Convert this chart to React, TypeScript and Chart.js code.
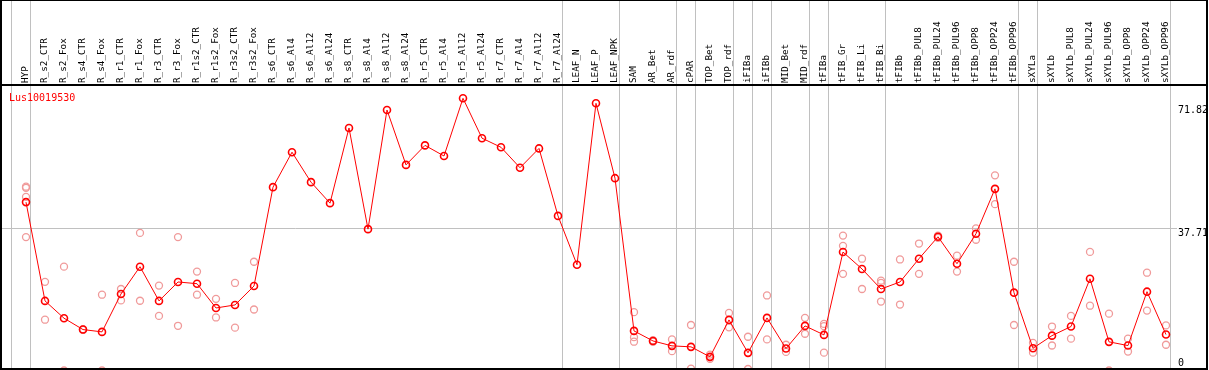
import React, { useEffect, useRef } from "react";
import { Chart, registerables } from "chart.js";

Chart.register(...registerables);

const geneName = "Lus10019530";

const categories = [
  "HYP",
  "R_s2_CTR", "R_s2_Fox", "R_s4_CTR", "R_s4_Fox",
  "R_r1_CTR", "R_r1_Fox", "R_r3_CTR", "R_r3_Fox",
  "R_r1s2_CTR", "R_r1s2_Fox", "R_r3s2_CTR", "R_r3s2_Fox",
  "R_s6_CTR", "R_s6_Al4", "R_s6_Al12", "R_s6_Al24",
  "R_s8_CTR", "R_s8_Al4", "R_s8_Al12", "R_s8_Al24",
  "R_r5_CTR", "R_r5_Al4", "R_r5_Al12", "R_r5_Al24",
  "R_r7_CTR", "R_r7_Al4", "R_r7_Al12", "R_r7_Al24",
  "LEAF_N", "LEAF_P", "LEAF_NPK",
  "SAM", "AR_Bet", "AR_rdf", "cPAR", "TOP_Bet", "TOP_rdf",
  "iFIBa", "iFIBb", "MID_Bet", "MID_rdf",
  "tFIBa", "tFIB_Gr", "tFIB_Li", "tFIB_Bi",
  "tFIBb", "tFIBb_PUL8", "tFIBb_PUL24", "tFIBb_PUL96",
  "tFIBb_OPP8", "tFIBb_OPP24", "tFIBb_OPP96",
  "sXYLa", "sXYLb", "sXYLb_PUL8", "sXYLb_PUL24", "sXYLb_PUL96",
  "sXYLb_OPP8", "sXYLb_OPP24", "sXYLb_OPP96",
];

const meanValues = [
  44.43,
  18.36, 13.8, 10.8, 10.19,
  20.2, 27.39, 18.36, 23.36,
  22.91, 16.5, 17.3, 22.3,
  48.38, 57.6, 49.7, 44.16,
  64.0, 37.3, 68.74, 54.25,
  59.4, 56.6, 71.82, 61.3,
  58.9, 53.5, 58.6, 40.8,
  27.9, 70.5, 50.75,
  10.45, 7.8, 6.5, 6.24, 3.6, 13.35,
  4.66, 13.88, 5.8, 11.77,
  9.4, 31.26, 26.8, 21.5,
  23.36, 29.5, 35.29, 28.18,
  36.08, 47.93, 20.54,
  5.87, 9.2, 11.6, 24.2, 7.56,
  6.58, 20.8, 9.48,
];

const replicateValues: number[][] = [
  [48.5, 48.2, 45.8, 35.2],
  [23.4, 13.4], [27.4, 0], [10.9, 10.7], [20.0, 0],
  [21.5, 18.5], [36.3, 18.4], [22.4, 14.4], [35.2, 11.8],
  [26.1, 20.0], [18.9, 14.0], [23.1, 11.3], [28.7, 16.1],
  [], [], [], [],
  [], [], [], [],
  [], [], [], [],
  [], [], [], [],
  [], [], [],
  [15.4, 8.8, 7.6], [8.0, 7.6], [8.2, 5.1], [12.0, 0.5], [4.2, 3.1], [15.2, 11.4],
  [8.9, 0.4], [19.8, 8.2], [6.8, 4.9], [13.9, 9.7],
  [12.3, 11.7, 4.7], [35.6, 32.9, 25.5], [29.5, 21.5], [23.7, 23.1, 18.2],
  [29.3, 17.4], [33.5, 25.5], [35.6, 35.0], [30.3, 26.1],
  [37.5, 34.5], [51.5, 43.9], [28.7, 12.0],
  [7.3, 4.7], [11.6, 6.6], [14.4, 8.4], [31.3, 17.1], [15.0, 0],
  [8.4, 5.0], [25.8, 15.8], [11.9, 6.8],
];

const yTickValues = [0, 37.71, 71.82];
const yGridValues = [37.71];
// index of the last category in each group (-1 = left edge)
const groupEnds = [-1, 0, 28, 31, 34, 35, 37, 38, 39, 41, 42, 45, 52, 53, 60];

const FONT = "'DejaVu Sans Mono', monospace";

const decorPlugin = {
  id: "decor",
  beforeDraw(chart: any) {
    const { ctx, chartArea, scales } = chart;
    const xs = scales.x;
    const ys = scales.y;
    ctx.save();
    ctx.strokeStyle = "#c0c0c0";
    ctx.lineWidth = 1;
    for (const g of groupEnds) {
      const px = Math.round(xs.getPixelForValue(g + 0.235)) + 0.5;
      ctx.beginPath();
      ctx.moveTo(px, 0);
      ctx.lineTo(px, chartArea.bottom);
      ctx.stroke();
    }
    for (const v of yGridValues) {
      const py = Math.round(ys.getPixelForValue(v)) + 0.5;
      ctx.beginPath();
      ctx.moveTo(chartArea.left, py);
      ctx.lineTo(chartArea.right, py);
      ctx.stroke();
    }
    ctx.restore();
  },
  afterDraw(chart: any) {
    const { ctx, chartArea, scales, width, height } = chart;
    const ys = scales.y;
    ctx.save();
    ctx.fillStyle = "#000";
    // frame
    ctx.fillRect(0, 0, width - 1, 1);
    ctx.fillRect(0, 0, 2, height);
    ctx.fillRect(width - 3, 0, 2, height);
    ctx.fillRect(0, chartArea.top - 2, width - 1, 2);
    ctx.fillRect(0, chartArea.bottom, width - 1, 2);
    // y labels
    ctx.font = `10px ${FONT}`;
    ctx.textAlign = "left";
    ctx.textBaseline = "alphabetic";
    for (const v of yTickValues) {
      const py = ys.getPixelForValue(v);
      const base = Math.min(Math.max(py + 8, chartArea.top + 27), chartArea.bottom - 2);
      ctx.fillText(String(v), chartArea.right + 1, base);
    }
    // gene name
    ctx.fillStyle = "#ff0000";
    ctx.fillText(geneName, chartArea.left + 7, chartArea.top + 14.5);
    ctx.restore();
  },
};

export default function App() {
  const ref = useRef<HTMLCanvasElement | null>(null);

  useEffect(() => {
    document.body.style.margin = "0";
    const canvas = ref.current;
    if (!canvas) return;
    const meanPoints = meanValues.map((v, i) => ({ x: i, y: v }));
    const repPoints: { x: number; y: number }[] = [];
    replicateValues.forEach((arr, i) => arr.forEach((v) => repPoints.push({ x: i, y: v })));

    const chart = new Chart(canvas, {
      type: "line",
      data: {
        datasets: [
          {
            data: meanPoints,
            borderColor: "#ff0000",
            borderWidth: 1,
            pointRadius: 3.5,
            pointBorderWidth: 1.6,
            pointBorderColor: "#ff0000",
            pointBackgroundColor: "rgba(0,0,0,0)",
            tension: 0,
          },
          {
            data: repPoints,
            showLine: false,
            pointRadius: 3.5,
            pointBorderWidth: 1.3,
            pointBorderColor: "#f09a9a",
            pointBackgroundColor: "rgba(0,0,0,0)",
          },
        ],
      },
      options: {
        animation: false,
        responsive: false,
        devicePixelRatio: 1,
        layout: { autoPadding: false, padding: { left: 2, right: 32, top: 0, bottom: 2 } },
        plugins: { legend: { display: false }, tooltip: { enabled: false } },
        scales: {
          x: {
            type: "linear",
            position: "top",
            min: -1.2632,
            max: 60.579,
            grid: { display: false, drawTicks: false },
            border: { display: false },
            afterBuildTicks: (axis: any) => {
              axis.ticks = categories.map((_, i) => ({ value: i }));
            },
            afterFit: (axis: any) => {
              axis.height = 86;
              axis.paddingLeft = 0;
              axis.paddingRight = 0;
            },
            ticks: {
              autoSkip: false,
              minRotation: 90,
              maxRotation: 90,
              padding: 3,
              labelOffset: 11,
              color: "#000",
              font: { family: FONT, size: 9.3 },
              callback: (value: any) => categories[value] ?? "",
            },
          },
          y: {
            type: "linear",
            display: false,
            min: 0.66,
            max: 75.07,
          },
        },
      },
      plugins: [decorPlugin],
    } as any);
    return () => chart.destroy();
  }, []);

  return <canvas ref={ref} width={1209} height={370} style={{ display: "block" }} />;
}
